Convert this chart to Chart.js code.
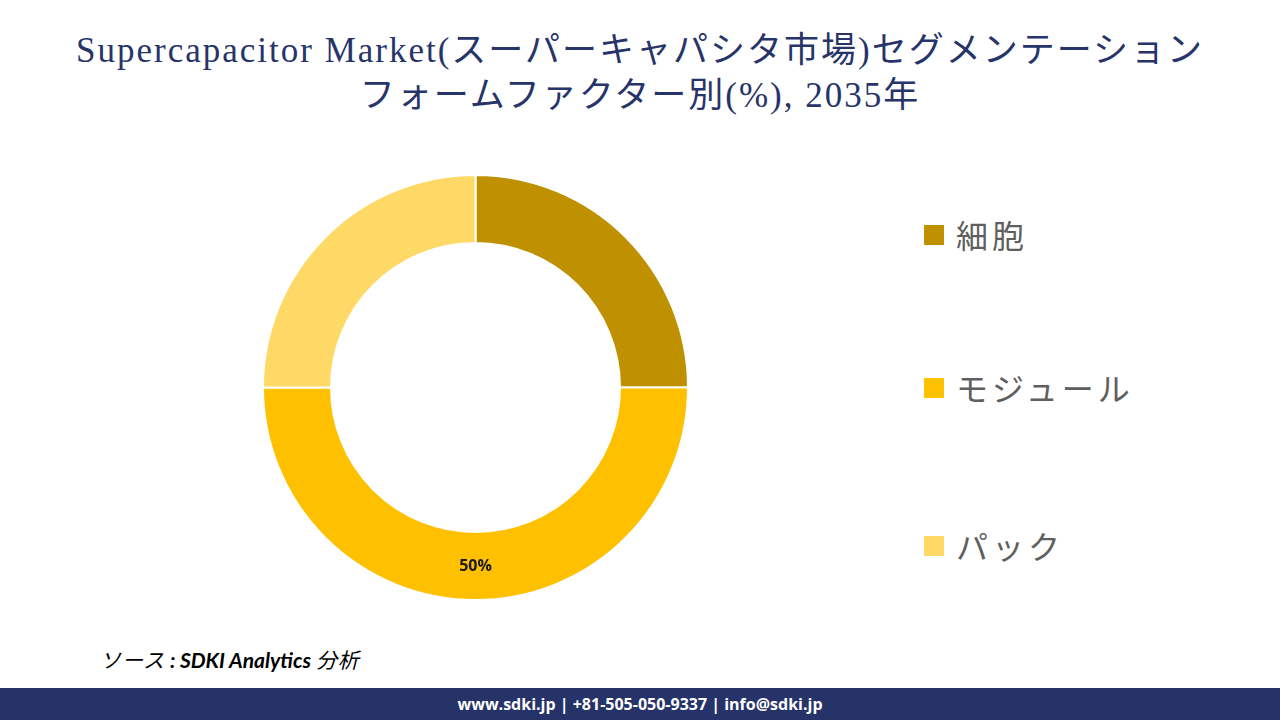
<!DOCTYPE html>
<html><head><meta charset="utf-8">
<script src="https://cdn.jsdelivr.net/npm/chart.js@4"></script>
<style>
html,body{margin:0;padding:0;width:1280px;height:720px;overflow:hidden;background:#fff;}
#title{position:absolute;left:0;top:28px;width:1280px;text-align:center;font-family:"Liberation Serif","DejaVu Serif","Noto Sans CJK JP",serif;font-size:35px;letter-spacing:2px;line-height:45px;color:#27346a;}
#wrap{position:absolute;left:262px;top:174px;width:427px;height:427px;}
#legend{position:absolute;left:0;top:0;}
.li{position:absolute;left:924px;font-family:"Noto Sans CJK JP",sans-serif;font-size:32px;letter-spacing:4px;color:#5f5f5f;white-space:nowrap;}
.sw{position:absolute;left:924px;width:20px;height:20px;}
#src{position:absolute;left:100px;top:644px;font-family:Lato,"Noto Sans CJK JP",sans-serif;font-style:italic;font-size:21px;color:#000;}
#src .jp{letter-spacing:1px;}
#foot{position:absolute;left:0;top:688px;width:1280px;height:32px;background:#253368;color:#fff;text-align:center;font-family:"Open Sans",Lato,sans-serif;font-weight:bold;font-size:16px;line-height:32px;}
</style></head><body>
<div id="title">Supercapacitor Market(スーパーキャパシタ市場)セグメンテーション<br>フォームファクター別(%), 2035年</div>
<div id="wrap"><canvas id="c"></canvas></div>
<div id="legend"></div>
<div id="src"><span class="jp">ソース</span> <b>: SDKI Analytics</b> <span class="jp">分析</span></div>
<div id="foot">www.sdki.jp | +81-505-050-9337 | info@sdki.jp</div>
<script>
const categories = ['細胞', 'モジュール', 'パック'];
const shares = [25, 50, 25];
const sliceLabels = ['', '50%', ''];
const colors = ['#BF9000', '#FFC000', '#FFD966'];
const legendY = [235, 388, 546];

const lg = document.getElementById('legend');
categories.forEach((c, i) => {
  const sw = document.createElement('div');
  sw.className = 'sw'; sw.style.top = (legendY[i] - 10) + 'px'; sw.style.background = colors[i];
  lg.appendChild(sw);
  const t = document.createElement('div');
  t.className = 'li'; t.textContent = c;
  t.style.left = '956px'; t.style.top = (legendY[i] - 24) + 'px';
  lg.appendChild(t);
});

const labelPlugin = {
  id: 'sliceLabels',
  afterDatasetsDraw(chart) {
    const ctx = chart.ctx;
    const meta = chart.getDatasetMeta(0);
    ctx.save();
    ctx.font = 'bold 16px "Open Sans", Lato, sans-serif';
    ctx.fillStyle = '#1a1a1a';
    ctx.textAlign = 'center'; ctx.textBaseline = 'middle';
    meta.data.forEach((arc, i) => {
      if (!sliceLabels[i]) return;
      const p = arc.getProps(['x','y','startAngle','endAngle','innerRadius','outerRadius'], true);
      const a = (p.startAngle + p.endAngle) / 2;
      const r = (p.innerRadius + p.outerRadius) / 2;
      ctx.fillText(sliceLabels[i], p.x + Math.cos(a) * r, p.y + Math.sin(a) * r);
    });
    ctx.restore();
  }
};

new Chart(document.getElementById('c'), {
  type: 'doughnut',
  data: { labels: categories, datasets: [{ data: shares, backgroundColor: colors, borderColor: '#ffffff', borderWidth: 2 }] },
  options: {
    responsive: true, maintainAspectRatio: false, animation: false,
    cutout: '68%',
    layout: { padding: 0 },
    plugins: { legend: { display: false }, tooltip: { enabled: false } }
  },
  plugins: [labelPlugin]
});
</script>
</body></html>
